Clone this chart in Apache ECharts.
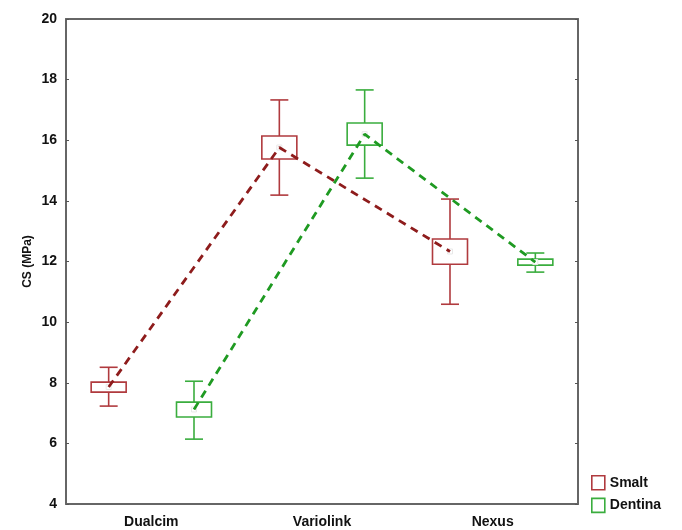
<!DOCTYPE html>
<html>
<head>
<meta charset="utf-8">
<script src="https://cdn.jsdelivr.net/npm/echarts@6/dist/echarts.min.js"></script>
<style>
  html, body { margin: 0; padding: 0; background: #fff; }
  #chart { width: 682px; height: 530px; }
</style>
</head>
<body>
<div id="chart"></div>
<script>
// categories and series
const categories = ['Dualcim', 'Variolink', 'Nexus']
const seriesNames = ['Smalt', 'Dentina']
const yTicks = [4, 6, 8, 10, 12, 14, 16, 18, 20]

// [whisker low, box low, mean, box high, whisker high]
const smaltBoxes = [
  [7.23, 7.69, 7.86, 8.02, 8.51],
  [14.19, 15.38, 15.76, 16.14, 17.33],
  [10.59, 11.91, 12.33, 12.74, 14.06]
]
const dentinaBoxes = [
  [6.14, 6.87, 7.12, 7.36, 8.05],
  [14.75, 15.84, 16.2, 16.57, 17.66],
  [11.65, 11.88, 11.98, 12.08, 12.28]
]

const boxColors = ['#b03a3e', '#3aad3e']
const lineColors = ['#8e1c1c', '#1f9a22']
// position of each series within a category band (0..1)
const offsets = [0.25, 0.75]

const chart = echarts.init(document.getElementById('chart'))

// 箱体绘制
const renderBox = (color) => (params, api) => {
  const x = api.value(0)
  const lo = api.coord([x, api.value(1)])
  const q1 = api.coord([x, api.value(2)])
  const mean = api.coord([x, api.value(3)])
  const q3 = api.coord([x, api.value(4)])
  const hi = api.coord([x, api.value(5)])
  const halfBox = 17.5
  const halfCap = 9
  const stroke = { stroke: color, lineWidth: 1.6, fill: null }
  return {
    type: 'group',
    children: [
      { type: 'line', shape: { x1: lo[0], y1: lo[1], x2: q1[0], y2: q1[1] }, style: stroke },
      { type: 'line', shape: { x1: q3[0], y1: q3[1], x2: hi[0], y2: hi[1] }, style: stroke },
      { type: 'line', shape: { x1: lo[0] - halfCap, y1: lo[1], x2: lo[0] + halfCap, y2: lo[1] }, style: stroke },
      { type: 'line', shape: { x1: hi[0] - halfCap, y1: hi[1], x2: hi[0] + halfCap, y2: hi[1] }, style: stroke },
      {
        type: 'rect',
        shape: { x: q3[0] - halfBox, y: q3[1], width: halfBox * 2, height: q1[1] - q3[1] },
        style: { stroke: color, lineWidth: 1.6, fill: '#fff' }
      },
      {
        type: 'rect',
        shape: { x: mean[0] - 2.5, y: mean[1] - 2.5, width: 5, height: 5 },
        style: { stroke: '#e8e8e8', lineWidth: 1, fill: '#fff' }
      }
    ]
  }
}

const boxData = (boxes, s) =>
  boxes.map((b, i) => [i + offsets[s], b[0], b[1], b[2], b[3], b[4]])

const meanData = (boxes, s) => boxes.map((b, i) => [i + offsets[s], b[2]])

const options = {
  animation: false,
  grid: { left: 66, top: 19, right: 104, bottom: 26 },
  legend: {
    orient: 'vertical',
    left: 586,
    top: 470,
    itemWidth: 13,
    itemHeight: 14,
    itemGap: 7,
    icon: 'rect',
    textStyle: { fontFamily: 'Liberation Sans', fontWeight: 'bold', fontSize: 14, color: '#111' },
    data: seriesNames.map((n, s) => ({
      name: n,
      itemStyle: { color: '#fff', borderColor: boxColors[s], borderWidth: 1.6 }
    }))
  },
  xAxis: [
    {
      type: 'category',
      data: categories,
      boundaryGap: true,
      axisLine: { lineStyle: { color: '#666', width: 2 } },
      axisTick: { alignWithLabel: true, inside: true, length: 3, lineStyle: { color: '#555' } },
      axisLabel: { fontFamily: 'Liberation Sans', fontWeight: 'bold', fontSize: 14, color: '#111', margin: 11 }
    },
    {
      type: 'value',
      min: 0,
      max: 3,
      show: false
    },
    {
      type: 'category',
      data: categories,
      position: 'top',
      axisLine: { lineStyle: { color: '#666', width: 2 } },
      axisTick: { alignWithLabel: true, inside: true, length: 3, lineStyle: { color: '#555' } },
      axisLabel: { show: false }
    }
  ],
  yAxis: [
    {
      type: 'value',
      min: 4,
      max: 20,
      interval: 2,
      name: 'CS (MPa)',
      nameLocation: 'middle',
      nameGap: 32,
      nameMoveOverlap: false,
      nameTextStyle: { fontFamily: 'Liberation Sans', fontWeight: 'bold', fontSize: 12, color: '#111' },
      axisLine: { show: true, lineStyle: { color: '#666', width: 2 } },
      axisTick: { show: true, inside: true, length: 3, lineStyle: { color: '#555' } },
      axisLabel: {
        fontFamily: 'Liberation Sans', fontWeight: 'bold', fontSize: 14, color: '#111', margin: 9,
        formatter: (v) => (yTicks.includes(v) ? String(v) : '')
      },
      splitLine: { show: false }
    },
    {
      type: 'value',
      min: 4,
      max: 20,
      interval: 2,
      position: 'right',
      axisLine: { show: true, lineStyle: { color: '#666', width: 2 } },
      axisTick: { show: true, inside: true, length: 3, lineStyle: { color: '#555' } },
      axisLabel: { show: false },
      splitLine: { show: false }
    }
  ],
  series: [
    {
      name: 'Smalt mean',
      type: 'line',
      xAxisIndex: 1,
      data: meanData(smaltBoxes, 0),
      symbol: 'none',
      z: 3,
      lineStyle: { color: lineColors[0], width: 2.8, type: [8, 6] }
    },
    {
      name: 'Dentina mean',
      type: 'line',
      xAxisIndex: 1,
      data: meanData(dentinaBoxes, 1),
      symbol: 'none',
      z: 3,
      lineStyle: { color: lineColors[1], width: 2.8, type: [8, 6] }
    },
    {
      name: 'Smalt',
      type: 'custom',
      xAxisIndex: 1,
      z: 2,
      itemStyle: { color: boxColors[0] },
      renderItem: renderBox(boxColors[0]),
      encode: { x: 0, y: [1, 2, 3, 4, 5] },
      data: boxData(smaltBoxes, 0)
    },
    {
      name: 'Dentina',
      type: 'custom',
      xAxisIndex: 1,
      z: 2,
      itemStyle: { color: boxColors[1] },
      renderItem: renderBox(boxColors[1]),
      encode: { x: 0, y: [1, 2, 3, 4, 5] },
      data: boxData(dentinaBoxes, 1)
    }
  ]
}

chart.setOption(options)
</script>
</body>
</html>
